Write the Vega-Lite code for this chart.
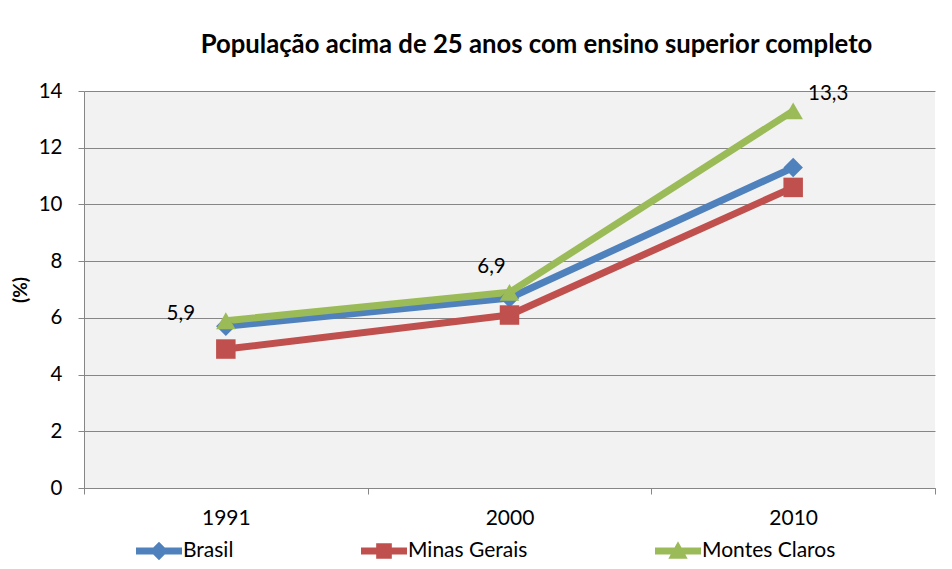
{
  "$schema": "https://vega.github.io/schema/vega-lite/v6.json",
  "width": 851,
  "height": 397,
  "autosize": {"type": "none"},
  "padding": {"left": 84, "top": 91, "right": 17, "bottom": 81},
  "background": "white",
  "config": {
    "font": "Lato",
    "view": {"fill": "#F2F2F2", "stroke": null},
    "locale": {"number": {"decimal": ",", "thousands": ".", "grouping": [3], "currency": ["R$", ""]}}
  },
  "title": {
    "text": "População acima de 25 anos com ensino superior completo",
    "font": "Lato",
    "fontSize": 25.7,
    "fontWeight": "bold",
    "color": "#000000",
    "anchor": "middle",
    "dx": 27,
    "offset": 22
  },
  "data": {
    "values": [
      {"year": "1991", "serie": "Brasil", "value": 5.7},
      {"year": "2000", "serie": "Brasil", "value": 6.7},
      {"year": "2010", "serie": "Brasil", "value": 11.3},
      {"year": "1991", "serie": "Minas Gerais", "value": 4.9},
      {"year": "2000", "serie": "Minas Gerais", "value": 6.1},
      {"year": "2010", "serie": "Minas Gerais", "value": 10.6},
      {"year": "1991", "serie": "Montes Claros", "value": 5.9},
      {"year": "2000", "serie": "Montes Claros", "value": 6.9},
      {"year": "2010", "serie": "Montes Claros", "value": 13.3}
    ]
  },
  "encoding": {
    "x": {
      "field": "year",
      "type": "ordinal",
      "scale": {"paddingInner": 0, "paddingOuter": 0},
      "axis": {
        "title": null,
        "labelAngle": 0,
        "labelFont": "Lato",
        "labelFontSize": 21,
        "labelColor": "#000000",
        "labelPadding": 13,
        "tickBand": "extent",
        "tickSize": 6,
        "tickColor": "#868686",
        "domainColor": "#868686",
        "grid": false
      }
    },
    "y": {
      "field": "value",
      "type": "quantitative",
      "scale": {"domain": [0, 14], "nice": false},
      "axis": {
        "title": "(%)",
        "titleFont": "Lato",
        "titleFontSize": 19,
        "titleFontWeight": "bold",
        "titleColor": "#000000",
        "titlePadding": 8,
        "values": [0, 2, 4, 6, 8, 10, 12, 14],
        "labelFont": "Lato",
        "labelFontSize": 20.5,
        "labelColor": "#000000",
        "labelPadding": 16,
        "tickSize": 6,
        "tickColor": "#868686",
        "domainColor": "#868686",
        "gridColor": "#868686",
        "gridWidth": 1
      }
    },
    "color": {
      "field": "serie",
      "type": "nominal",
      "scale": {"domain": ["Brasil", "Minas Gerais", "Montes Claros"], "range": ["#4F81BD", "#C0504D", "#9BBB59"]},
      "legend": {
        "title": null,
        "orient": "none",
        "legendX": 52,
        "legendY": 437,
        "direction": "horizontal",
        "columns": 3,
        "gridAlign": "none",
        "columnPadding": 127,
        "symbolSize": 2116,
        "symbolStrokeWidth": 0,
        "labelFont": "Lato",
        "labelFontSize": 21,
        "labelColor": "#000000",
        "labelOffset": 1,
        "labelLimit": 300,
        "encode": {
          "symbols": {
            "update": {
              "shape": {"signal": "datum.value == 'Brasil' ? 'M-1,-0.15H1V0.15H-1Z M0,-0.4L0.4,0L0,0.4L-0.4,0Z' : datum.value == 'Minas Gerais' ? 'M-1,-0.15H1V0.15H-1Z M-0.34,-0.34H0.34V0.34H-0.34Z' : 'M-1,-0.15H1V0.15H-1Z M0,-0.42L0.42,0.34L-0.42,0.34Z'"},
              "fill": {"scale": "color", "field": "value"},
              "fillOpacity": {"value": 1},
              "strokeWidth": {"value": 0}
            }
          }
        }
      }
    }
  },
  "layer": [
    {
      "mark": {"type": "line", "strokeWidth": 7}
    },
    {
      "transform": [{"filter": "datum.serie == 'Brasil'"}],
      "mark": {"type": "point", "filled": true, "opacity": 1, "size": 380, "shape": "diamond"}
    },
    {
      "transform": [{"filter": "datum.serie == 'Minas Gerais'"}],
      "mark": {"type": "point", "filled": true, "opacity": 1, "size": 380, "shape": "square"}
    },
    {
      "transform": [{"filter": "datum.serie == 'Montes Claros'"}],
      "mark": {"type": "point", "filled": true, "opacity": 1, "size": 380, "shape": "triangle-up"}
    },
    {
      "transform": [{"filter": "datum.serie == 'Montes Claros' && datum.year == '1991'"}],
      "mark": {"type": "text", "font": "Lato", "fontSize": 20.5, "dx": -45, "dy": -7},
      "encoding": {"text": {"field": "value", "type": "quantitative", "format": ".1f"}, "color": {"value": "#000000"}}
    },
    {
      "transform": [{"filter": "datum.serie == 'Montes Claros' && datum.year == '2000'"}],
      "mark": {"type": "text", "font": "Lato", "fontSize": 20.5, "dx": -18, "dy": -25},
      "encoding": {"text": {"field": "value", "type": "quantitative", "format": ".1f"}, "color": {"value": "#000000"}}
    },
    {
      "transform": [{"filter": "datum.serie == 'Montes Claros' && datum.year == '2010'"}],
      "mark": {"type": "text", "font": "Lato", "fontSize": 20.5, "dx": 35, "dy": -17},
      "encoding": {"text": {"field": "value", "type": "quantitative", "format": ".1f"}, "color": {"value": "#000000"}}
    }
  ]
}
